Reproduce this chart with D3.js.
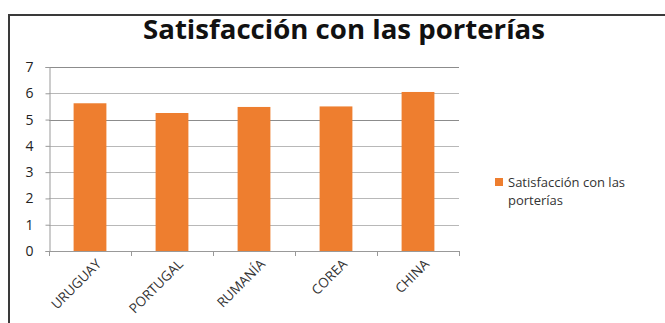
<!DOCTYPE html>
<html>
<head>
<meta charset="utf-8">
<script src="https://cdn.jsdelivr.net/npm/d3@7/dist/d3.min.js"></script>
<style>
  html, body { margin: 0; padding: 0; background: #fff; }
  svg { display: block; }
  text { font-family: "Open Sans", "DejaVu Sans", sans-serif; fill: #222; }
</style>
</head>
<body>
<svg id="chart" width="665" height="323"></svg>
<script>
// Data
const categories = ["URUGUAY", "PORTUGAL", "RUMANÍA", "COREA", "CHINA"];
const values = [5.62, 5.25, 5.48, 5.5, 6.05];
const yTicks = [0, 1, 2, 3, 4, 5, 6, 7];
const seriesName = "Satisfacción con las porterías";
const chartTitle = "Satisfacción con las porterías";

const svg = d3.select("#chart");
const W = 665, H = 323;
const plot = { left: 49, right: 459, top: 67, bottom: 251 };
const orange = "#ee7e2f";

// Outer frame: top and left edges
svg.append("path")
  .attr("d", `M9,${H} L9,15 L${W},15`)
  .attr("fill", "none")
  .attr("stroke", "#3a3a3a")
  .attr("stroke-width", 2);

// Title, fitted to its width
const title = svg.append("text")
  .attr("x", 344)
  .attr("y", 39)
  .attr("text-anchor", "middle")
  .attr("font-weight", "bold")
  .attr("font-size", 24)
  .style("fill", "#111")
  .text(chartTitle);
const tw = title.node().getComputedTextLength();
title.attr("font-size", 24 * 402 / tw);

const x = d3.scaleBand()
  .domain(categories)
  .range([plot.left, plot.right])
  .paddingInner(0.6)
  .paddingOuter(0.3);

const y = d3.scaleLinear()
  .domain([0, 7])
  .range([plot.bottom, plot.top]);

// Horizontal gridlines
svg.append("g")
  .selectAll("line")
  .data(yTicks.filter(d => d > 0))
  .join("line")
  .attr("x1", plot.left)
  .attr("x2", plot.right)
  .attr("y1", d => Math.round(y(d)) + 0.5)
  .attr("y2", d => Math.round(y(d)) + 0.5)
  .attr("stroke", d => (d === 5 || d === 7) ? "#8c8c8c" : "#b8b8b8")
  .attr("stroke-width", 1);

// Bars
svg.append("g")
  .selectAll("rect")
  .data(categories.map((c, i) => ({ c, v: values[i] })))
  .join("rect")
  .attr("x", d => x(d.c))
  .attr("y", d => y(d.v))
  .attr("width", x.bandwidth())
  .attr("height", d => y(0) - y(d.v))
  .attr("fill", orange);

// Y axis
const yAxis = svg.append("g")
  .attr("transform", `translate(${plot.left + 0.5},0)`)
  .call(d3.axisLeft(y).tickValues(yTicks).tickFormat(d3.format("d")).tickSize(4).tickPadding(12));
yAxis.select(".domain").attr("stroke", "#999");
yAxis.selectAll(".tick line").attr("stroke", "#999");
yAxis.selectAll(".tick text")
  .attr("font-size", 14)
  .style("fill", "#222");

// X axis with ticks between categories
const step = x.step();
const boundaries = d3.range(categories.length + 1).map(i => plot.left + i * step);
const xg = svg.append("g");
xg.append("line")
  .attr("x1", plot.left).attr("x2", plot.right)
  .attr("y1", plot.bottom + 0.5).attr("y2", plot.bottom + 0.5)
  .attr("stroke", "#999");
xg.selectAll("line.tk")
  .data(boundaries)
  .join("line")
  .attr("class", "tk")
  .attr("x1", d => Math.round(d) + 0.5).attr("x2", d => Math.round(d) + 0.5)
  .attr("y1", plot.bottom).attr("y2", plot.bottom + 5)
  .attr("stroke", "#999");

xg.selectAll("text")
  .data(categories)
  .join("text")
  .attr("transform", d => `translate(${x(d) + x.bandwidth() / 2 + 12},${plot.bottom + 14}) rotate(-45)`)
  .attr("text-anchor", "end")
  .attr("font-size", 13.5)
  .style("fill", "#333")
  .text(d => d);

// Legend
const lg = svg.append("g").attr("transform", "translate(495,178)");
lg.append("rect")
  .attr("width", 8).attr("height", 8)
  .attr("fill", orange);
const words = seriesName.split(" ");
lg.append("text")
  .attr("x", 13).attr("y", 9)
  .attr("font-size", 13)
  .style("fill", "#333")
  .selectAll("tspan")
  .data([words.slice(0, 3).join(" "), words.slice(3).join(" ")])
  .join("tspan")
  .attr("x", 13)
  .attr("dy", (d, i) => i === 0 ? 0 : 18)
  .text(d => d);
</script>
</body>
</html>
